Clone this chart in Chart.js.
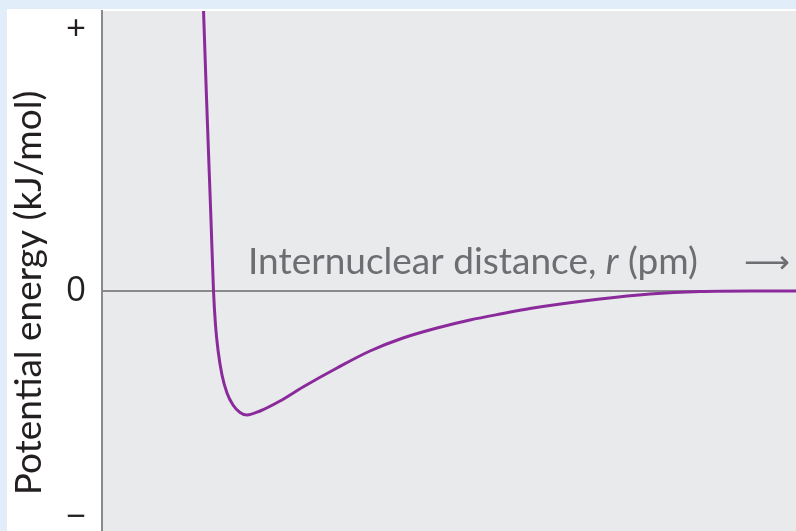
<!DOCTYPE html>
<html>
<head>
<meta charset="utf-8">
<script src="https://cdn.jsdelivr.net/npm/chart.js@4.4.0/dist/chart.umd.min.js"></script>
<style>
  html, body { margin: 0; padding: 0; background: #e1edf8; }
  #wrap { width: 796px; height: 531px; }
</style>
</head>
<body>
<div id="wrap"><canvas id="chart" width="796" height="531"></canvas></div>
<script>
// internuclear distance (arbitrary units) and potential energy (arbitrary units)
const distance = [101, 101.5, 105.5, 109, 111.5, 113.5, 116, 120, 125, 131, 138, 145, 158, 178, 201, 235, 268, 301, 335, 368, 401, 428, 498, 548, 598, 650, 694];
const energy = [300, 281, 166, 71, 0, -34, -59, -84, -102, -114, -121.5, -124, -120, -110, -96, -77, -60, -47, -37, -29, -22.5, -17.5, -8, -3, -0.5, 0, 0];
const tickValues = [261, 0, -227];
const tickLabels = ['+', '0', '\u2212'];
const yTitle = 'Potential energy (kJ/mol)';

const points = distance.map((d, i) => ({ x: d, y: energy[i] }));

// panel backgrounds
const backdrop = {
  id: 'backdrop',
  beforeDraw(chart) {
    const ctx = chart.ctx;
    const a = chart.chartArea;
    ctx.save();
    ctx.fillStyle = '#e1edf8';
    ctx.fillRect(0, 0, chart.width, chart.height);
    ctx.fillStyle = '#ffffff';
    ctx.fillRect(7, 9, chart.width - 7, chart.height - 9);
    ctx.fillStyle = '#e9eaec';
    ctx.fillRect(a.left, a.top, a.right - a.left, a.bottom - a.top);
    ctx.restore();
  }
};

// axis captions: x caption sits inside the plot, y caption a bit below centre
const captions = {
  id: 'captions',
  afterDatasetsDraw(chart) {
    const ctx = chart.ctx;
    ctx.save();
    ctx.fillStyle = '#6d6e71';
    ctx.textBaseline = 'alphabetic';
    let x = 248;
    const y = 274;
    const parts = [
      ['Internuclear distance, ', 'normal'],
      ['r', 'italic'],
      [' (pm)', 'normal']
    ];
    parts.forEach(([t, style]) => {
      ctx.font = style + ' 37px Lato';
      ctx.fillText(t, x, y);
      x += ctx.measureText(t).width;
    });
    ctx.font = '32px "DejaVu Sans"';
    ctx.fillText('\u27F6', 744, 273);
    ctx.restore();

    ctx.save();
    ctx.translate(29, 293);
    ctx.rotate(-Math.PI / 2);
    ctx.fillStyle = '#231f20';
    ctx.font = '37px Lato';
    ctx.textAlign = 'center';
    ctx.textBaseline = 'middle';
    ctx.fillText(yTitle, 0, 0);
    ctx.restore();
  }
};

new Chart(document.getElementById('chart'), {
  type: 'scatter',
  data: {
    datasets: [{
      data: points,
      showLine: true,
      borderColor: '#8b2a9b',
      borderWidth: 3,
      pointRadius: 0,
      cubicInterpolationMode: 'monotone',
      clip: 0
    }]
  },
  options: {
    responsive: false,
    animation: false,
    layout: { padding: { top: 11, left: 0, right: 0, bottom: 0 } },
    plugins: { legend: { display: false }, tooltip: { enabled: false } },
    scales: {
      x: { type: 'linear', min: 0, max: 694, display: false },
      y: {
        type: 'linear',
        min: -240,
        max: 280,
        afterFit(scale) {
          scale.width = 102;
          scale.paddingTop = 0;
          scale.paddingBottom = 0;
        },
        afterBuildTicks(scale) { scale.ticks = tickValues.map(v => ({ value: v })); },
        ticks: {
          padding: 16,
          color: '#231f20',
          font: { family: 'Open Sans', size: 35, weight: 400 },
          callback: (v) => tickLabels[tickValues.indexOf(v)]
        },
        grid: {
          drawTicks: false,
          color: (c) => c.tick && c.tick.value === 0 ? '#8a8a8a' : 'rgba(0,0,0,0)',
          lineWidth: 2
        },
        border: { display: true, color: '#8a8a8a', width: 2 },
        title: { display: false }
      }
    }
  },
  plugins: [backdrop, captions]
});
</script>
</body>
</html>
